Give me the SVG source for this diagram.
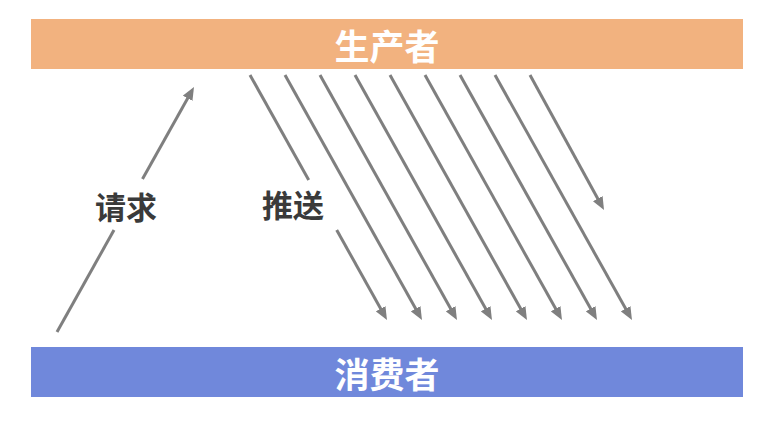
<svg xmlns="http://www.w3.org/2000/svg" width="767" height="424" viewBox="0 0 767 424">
<style>
.bar-text{font-family:"Noto Sans CJK SC","Noto Sans",sans-serif;font-weight:bold;font-size:35px;fill:#ffffff;text-anchor:middle;dominant-baseline:central}
.lbl{font-family:"Noto Sans CJK SC","Noto Sans",sans-serif;font-weight:bold;font-size:31px;fill:#3a3a3a;text-anchor:middle;dominant-baseline:central}
.arr{stroke:#7f7f7f;stroke-width:3;fill:none}
</style>
<defs>
<marker id="ah" markerUnits="userSpaceOnUse" markerWidth="13" markerHeight="11" refX="3" refY="5.5" orient="auto">
<path d="M0,0 L13,5.5 L0,11 z" fill="#7f7f7f"/>
</marker>
</defs>
<rect width="767" height="424" fill="#ffffff"/>
<g id="producer">
<rect x="31" y="19" width="712" height="50" fill="#f2b27f"/>
<text class="bar-text" x="387" y="44">生产者</text>
</g>
<g id="consumer">
<rect x="31" y="347" width="712" height="50" fill="#7088db"/>
<text class="bar-text" x="387" y="372">消费者</text>
</g>
<g id="connectors">
<line class="arr" x1="57" y1="332" x2="114" y2="230"/>
<line class="arr" x1="142.5" y1="179" x2="189.1" y2="95.7" marker-end="url(#ah)"/>
<line class="arr" x1="250" y1="75" x2="308.7" y2="180"/>
<line class="arr" x1="336.7" y1="230" x2="382.1" y2="311.3" marker-end="url(#ah)"/>
<line class="arr" x1="285" y1="75" x2="417.1" y2="311.3" marker-end="url(#ah)"/>
<line class="arr" x1="320" y1="75" x2="452.1" y2="311.3" marker-end="url(#ah)"/>
<line class="arr" x1="355" y1="75" x2="487.1" y2="311.3" marker-end="url(#ah)"/>
<line class="arr" x1="390" y1="75" x2="522.1" y2="311.3" marker-end="url(#ah)"/>
<line class="arr" x1="425" y1="75" x2="557.1" y2="311.3" marker-end="url(#ah)"/>
<line class="arr" x1="460" y1="75" x2="592.1" y2="311.3" marker-end="url(#ah)"/>
<line class="arr" x1="495" y1="75" x2="627.1" y2="311.3" marker-end="url(#ah)"/>
<line class="arr" x1="530" y1="75" x2="599.2" y2="201.2" marker-end="url(#ah)"/>
</g>
<g id="label-request">
<text class="lbl" x="126" y="205">请求</text>
</g>
<g id="label-push">
<text class="lbl" x="293" y="203">推送</text>
</g>
</svg>
